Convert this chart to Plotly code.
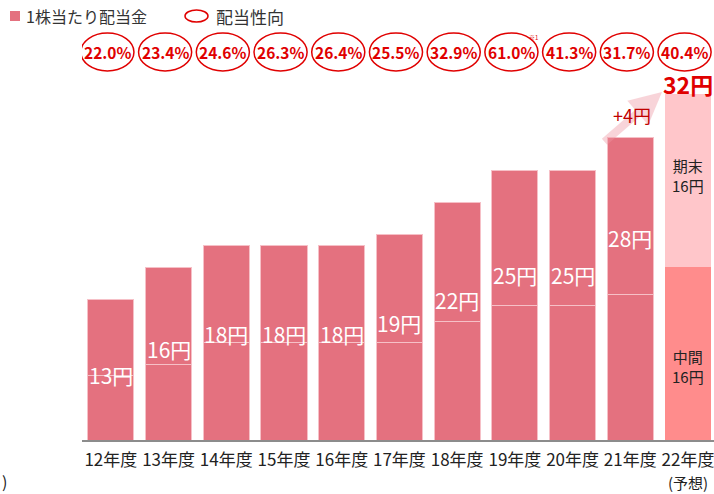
import plotly.graph_objects as go

# 配当データ（円）
years = ["12年度", "13年度", "14年度", "15年度", "16年度", "17年度",
         "18年度", "19年度", "20年度", "21年度", "22年度"]
forecast_note = "(予想)"
interim = [6, 7, 9, 9, 9, 9, 11, 12.5, 12.5, 13.5, 16]      # 中間配当
year_end = [7, 9, 9, 9, 9, 10, 11, 12.5, 12.5, 14.5, 16]    # 期末配当
payout_ratio = [22.0, 23.4, 24.6, 26.3, 26.4, 25.5, 32.9, 61.0, 41.3, 31.7, 40.4]  # 配当性向（%）

totals = [a + b for a, b in zip(interim, year_end)]
n = len(years)
idx = list(range(n))

# 描画まわりの定数
W, H = 714, 494
ML, MB = 82, 54
PW, PH = W - ML, H - MB
XR = [-0.5, 10.45]
YR = [0, 40.75]

BAR = "#E4717F"
EDGE = "#F6C0C7"
RED = "#E00000"
FONT = "Noto Sans CJK JP"


def fx(px):
    return (px - ML) / PW


def fy(py):
    return (H - MB - py) / PH


def dy(py):
    return (H - MB - py) / PH * (YR[1] - YR[0])


def note(x, y, text, size, color, xref="paper", yref="paper", xanchor="center"):
    return dict(x=x, y=y, xref=xref, yref=yref, text=text, showarrow=False,
                xanchor=xanchor, yanchor="middle", borderpad=0,
                font=dict(family=FONT, size=size, color=color))


# 合計額ラベルの高さ（データ単位）
label_levels = [6.0, 8.4, 9.8, 9.8, 9.8, 10.8, 13.0, 15.3, 15.3, 18.7]

fig = go.Figure()
fig.add_trace(go.Bar(
    x=idx, y=interim, width=0.8,
    marker=dict(color=[BAR] * (n - 1) + ["#FF8C8C"],
                line=dict(color=[EDGE] * (n - 1) + ["rgba(0,0,0,0)"], width=1)),
    hoverinfo="skip", showlegend=False,
))
fig.add_trace(go.Bar(
    x=idx, y=year_end, width=0.8,
    marker=dict(color=[BAR] * (n - 1) + ["#FFC6CA"],
                line=dict(color=[EDGE] * (n - 1) + ["rgba(0,0,0,0)"], width=1)),
    hoverinfo="skip", showlegend=False,
))

shapes = []
annotations = []

# 合計額（白文字）
for i in range(n - 1):
    annotations.append(note(i, label_levels[i], f"{totals[i]:g}円", 21, "white",
                            xref="x", yref="y"))

# 配当性向の楕円
for i, v in enumerate(payout_ratio):
    cx = i - 0.06
    shapes.append(dict(
        type="circle", xref="x", yref="y",
        x0=cx - 0.46, x1=cx + 0.46, y0=dy(71), y1=dy(33),
        line=dict(color=RED, width=1.5),
    ))
    annotations.append(note(cx, dy(52), f"<b>{v:.1f}%</b>", 15.5, RED,
                            xref="x", yref="y"))
# 注記記号
annotations.append(note(fx(533), fy(38), "※1", 6, RED))

# 増配を示す矢印
annotations.append(dict(
    x=fx(662), y=fy(92), xref="paper", yref="paper", text="",
    showarrow=True, ax=-59, ay=51, arrowhead=2, arrowsize=0.8,
    arrowwidth=8, arrowcolor="rgba(240,150,162,0.4)",
))
annotations.append(note(fx(632), fy(115), "+4円", 18, "#C00000"))
annotations.append(note(n - 1, dy(84), f"<b>{totals[-1]:g}円</b>", 23, RED,
                        xref="x", yref="y"))

# 2022年度予想の内訳
annotations.append(note(n - 1, dy(175), f"期末<br>{year_end[-1]:g}円", 15, "#222222",
                        xref="x", yref="y"))
annotations.append(note(n - 1, dy(366), f"中間<br>{interim[-1]:g}円", 15, "#222222",
                        xref="x", yref="y"))
annotations.append(note(n - 1, fy(482), forecast_note, 15, "#222222",
                        xref="x", yref="paper"))

# 凡例
shapes.append(dict(type="rect", xref="paper", yref="paper",
                   x0=fx(10), x1=fx(20), y0=fy(21), y1=fy(11),
                   fillcolor=BAR, line=dict(width=0)))
annotations.append(note(fx(25), fy(16), "1株当たり配当金", 16, "#333333", xanchor="left"))
shapes.append(dict(type="circle", xref="paper", yref="paper",
                   x0=fx(185), x1=fx(208), y0=fy(22), y1=fy(10),
                   line=dict(color=RED, width=1.5)))
annotations.append(note(fx(215), fy(16), "配当性向", 17, "#333333", xanchor="left"))
annotations.append(note(fx(1), fy(481), ")", 16, "#222222", xanchor="left"))

fig.update_layout(
    width=W, height=H,
    margin=dict(l=ML, r=0, t=0, b=MB, pad=0),
    paper_bgcolor="white", plot_bgcolor="white",
    barmode="stack",
    shapes=shapes, annotations=annotations,
    font=dict(family=FONT),
    xaxis=dict(
        range=XR, tickmode="array", tickvals=idx, ticktext=years,
        showgrid=False, zeroline=False, showline=True,
        linecolor="#8C8C8C", linewidth=2, ticks="",
        ticklabelstandoff=4, ticklabeloverflow="allow",
        tickfont=dict(family=FONT, size=17, color="#222222"),
        layer="below traces", fixedrange=True,
    ),
    yaxis=dict(range=YR, visible=False, fixedrange=True),
)

fig.write_html("out.html")
